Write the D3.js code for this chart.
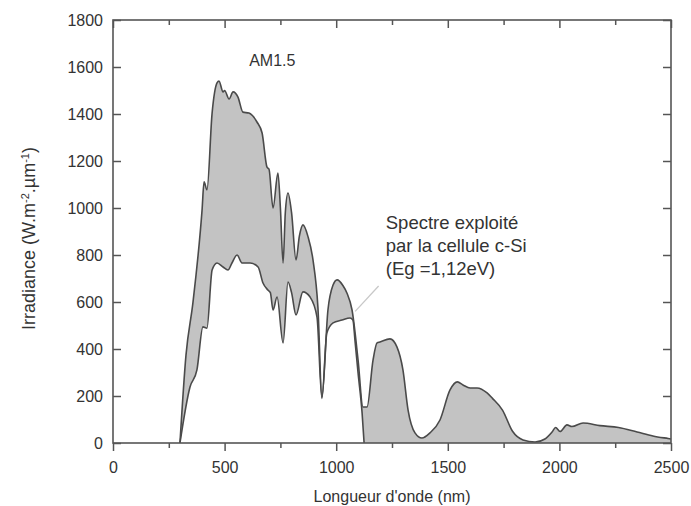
<!DOCTYPE html>
<html>
<head>
<meta charset="utf-8">
<script src="https://cdn.jsdelivr.net/npm/d3@7"></script>
<style>
  body { margin: 0; background: #fff; }
  text { font-family: "Liberation Sans", Arial, sans-serif; fill: #333; }
</style>
</head>
<body>
<svg id="chart"></svg>
<script>
// AM1.5 spectrum (upper curve)
var upperWl = [300, 327, 358, 399, 408, 421, 444, 466, 475, 493, 500, 520, 538, 560, 582, 609, 645, 668, 690, 699,
  717, 739, 750, 762, 772, 784, 800, 820, 835, 851, 874, 896, 918, 936, 963, 985, 1004, 1030, 1048, 1071,
  1098, 1120, 1138, 1165, 1183, 1196, 1241, 1272, 1299, 1322, 1353, 1384, 1420, 1465, 1510, 1543, 1568, 1600, 1631, 1676,
  1700, 1745, 1790, 1837, 1891, 1935, 1967, 1983, 2003, 2034, 2056, 2106, 2182, 2265, 2348, 2419, 2487, 2500];
var upperVal = [0, 374, 596, 991, 1111, 1077, 1404, 1532, 1540, 1494, 1500, 1464, 1494, 1472, 1408, 1404, 1366, 1319, 1174, 1165,
  1000, 1149, 1000, 766, 980, 1064, 980, 779, 880, 928, 877, 779, 579, 196, 566, 670, 694, 670, 638, 566,
  353, 153, 153, 353, 426, 430, 443, 409, 311, 140, 43, 21, 43, 98, 226, 260, 247, 234, 234, 213,
  190, 140, 50, 13, 4, 17, 47, 66, 49, 77, 70, 85, 74, 66, 47, 30, 19, 17];

// part used by a c-Si cell (lower curve)
var lowerWl = [300, 345, 376, 403, 421, 444, 466, 493, 515, 533, 556, 578, 614, 650, 672, 694, 705, 717, 735, 762,
  784, 800, 820, 851, 883, 914, 936, 958, 986, 1026, 1062, 1075, 1084, 1098, 1116, 1125];
var lowerVal = [0, 238, 311, 494, 489, 736, 766, 749, 736, 766, 800, 766, 766, 749, 681, 651, 640, 566, 621, 426,
  685, 640, 545, 643, 621, 536, 190, 468, 511, 523, 532, 523, 438, 298, 128, 0];

var xTicks = [0, 500, 1000, 1500, 2000, 2500];
var xMinor = [250, 750, 1250, 1750, 2250];
var yTicks = [0, 200, 400, 600, 800, 1000, 1200, 1400, 1600, 1800];

var svgWidth = 691, svgHeight = 506;
var margin = { top: 20, right: 20, bottom: 63, left: 113 };
var width = svgWidth - margin.left - margin.right;
var height = svgHeight - margin.top - margin.bottom;

var svg = d3.select("#chart")
  .attr("width", svgWidth)
  .attr("height", svgHeight);

var g = svg.append("g")
  .attr("transform", "translate(" + margin.left + "," + margin.top + ")");

var x = d3.scaleLinear().domain([0, 2500]).range([0, width]);
var y = d3.scaleLinear().domain([0, 1800]).range([height, 0]);

var upper = upperWl.map(function(d, i) { return { wl: d, v: upperVal[i] }; });
var lower = lowerWl.map(function(d, i) { return { wl: d, v: lowerVal[i] }; });

var area = d3.area()
  .curve(d3.curveMonotoneX)
  .x(function(d) { return x(d.wl); })
  .y0(y(0))
  .y1(function(d) { return y(d.v); });

var line = d3.line()
  .curve(d3.curveMonotoneX)
  .x(function(d) { return x(d.wl); })
  .y(function(d) { return y(d.v); });

// grey under the full spectrum, then white under the exploited part
g.append("path").datum(upper).attr("fill", "#c3c3c3").attr("d", area);
g.append("path").datum(lower).attr("fill", "#fff").attr("d", area);

g.append("path").datum(lower)
  .attr("fill", "none").attr("stroke", "#4a4a4a").attr("stroke-width", 1.6)
  .attr("stroke-linejoin", "round").attr("d", line);
g.append("path").datum(upper)
  .attr("fill", "none").attr("stroke", "#4a4a4a").attr("stroke-width", 1.6)
  .attr("stroke-linejoin", "round").attr("d", line);

// leader line of the note
g.append("line")
  .attr("x1", x(1190)).attr("y1", y(668))
  .attr("x2", x(1085)).attr("y2", y(560))
  .attr("stroke", "#c8c8c8").attr("stroke-width", 1.3);

// axes: left/top/right ticks inside, bottom ticks outside
var axisColor = "#555";
function styleAxis(sel) {
  sel.selectAll(".domain").remove();
  sel.selectAll("line").attr("stroke", axisColor).attr("stroke-width", 1.5);
  sel.selectAll("text").attr("font-size", "16px").style("fill", "#333");
}

g.append("g")
  .attr("transform", "translate(0," + height + ")")
  .call(d3.axisBottom(x).tickValues(xTicks).tickSize(8).tickPadding(11).tickFormat(d3.format("d")))
  .call(styleAxis);
g.append("g")
  .attr("transform", "translate(0," + height + ")")
  .call(d3.axisBottom(x).tickValues(xMinor).tickSize(5).tickFormat(""))
  .call(styleAxis);

g.append("g")
  .call(d3.axisBottom(x).tickValues(xTicks).tickSize(8).tickFormat(""))
  .call(styleAxis);
g.append("g")
  .call(d3.axisBottom(x).tickValues(xMinor).tickSize(5).tickFormat(""))
  .call(styleAxis);

g.append("g")
  .call(d3.axisRight(y).tickValues(yTicks).tickSize(8).tickFormat(""))
  .call(styleAxis);
g.append("g")
  .call(d3.axisLeft(y).tickValues(yTicks).tickSize(0).tickPadding(10).tickFormat(d3.format("d")))
  .call(styleAxis);

g.append("g")
  .attr("transform", "translate(" + width + ",0)")
  .call(d3.axisLeft(y).tickValues(yTicks).tickSize(8).tickFormat(""))
  .call(styleAxis);

// frame
g.append("rect")
  .attr("width", width).attr("height", height)
  .attr("fill", "none").attr("stroke", axisColor).attr("stroke-width", 1.6);

// labels
g.append("text")
  .attr("x", width / 2).attr("y", height + 59)
  .attr("text-anchor", "middle").attr("font-size", "16px")
  .text("Longueur d'onde (nm)");

var yl = g.append("text")
  .attr("transform", "translate(-78," + (height / 2 + 7) + ") rotate(-90)")
  .attr("text-anchor", "middle").attr("font-size", "18px");
yl.append("tspan").text("Irradiance (W.m");
yl.append("tspan").attr("baseline-shift", "super").attr("font-size", "11px").text("-2");
yl.append("tspan").text(".µm");
yl.append("tspan").attr("baseline-shift", "super").attr("font-size", "11px").text("-1");
yl.append("tspan").text(")");

g.append("text")
  .attr("x", x(610)).attr("y", y(1605))
  .attr("font-size", "16px")
  .text("AM1.5");

var note = ["Spectre exploité", "par la cellule c-Si", "(Eg =1,12eV)"];
g.append("g").selectAll("text")
  .data(note)
  .join("text")
  .attr("x", x(1222))
  .attr("y", function(d, i) { return y(910) + i * 23; })
  .attr("font-size", "18.5px")
  .text(function(d) { return d; });
</script>
</body>
</html>
